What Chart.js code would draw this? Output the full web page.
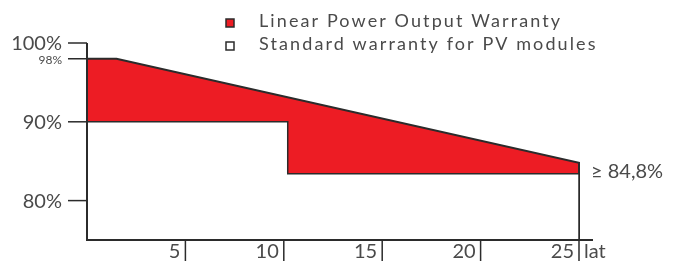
<!DOCTYPE html>
<html lang="en">
<head>
  <meta charset="UTF-8">
  <title>Warranty</title>
  <script src="https://cdn.jsdelivr.net/npm/chart.js"></script>
  <style>
    html, body { margin: 0; padding: 0; background: #fff; }
  </style>
</head>
<body>
  <canvas id="warrantyChart" width="673" height="261"></canvas>

  <script>
    // data
    const seriesNames = ['Linear Power Output Warranty', 'Standard warranty for PV modules'];
    const linearX = [0, 1.5, 25, 25];
    const linearY = [98, 98, 84.8, 75];
    const standardX = [0, 10.2, 10.2, 25, 25];
    const standardY = [90, 90, 83.4, 83.4, 75];
    const yearTicks = [5, 10, 15, 20, 25];
    const yTicks = [100, 98, 90, 80];
    const endLabel = '\u2265 84,8%';
    const unitLabel = 'lat';

    const ink = '#2b2b2b';
    const textColor = '#4a4a4a';
    const red = '#ed1c24';
    const fontFamily = 'Lato, "Open Sans", sans-serif';

    function toPoints(xs, ys) {
      return xs.map((x, i) => ({ x: x, y: ys[i] }));
    }

    const decorPlugin = {
      id: 'decor',
      afterDraw(chart) {
        const ctx = chart.ctx;
        const xs = chart.scales.x;
        const ys = chart.scales.y;
        const x0 = xs.getPixelForValue(0);
        const xEnd = xs.getPixelForValue(25);
        const yBottom = ys.getPixelForValue(75);
        ctx.save();
        ctx.strokeStyle = ink;
        ctx.lineWidth = 2;

        // axes
        ctx.beginPath();
        ctx.moveTo(x0, ys.getPixelForValue(100));
        ctx.lineTo(x0, yBottom);
        ctx.lineTo(xEnd + 14, yBottom);
        ctx.stroke();

        // y ticks
        ctx.fillStyle = textColor;
        ctx.textAlign = 'right';
        ctx.textBaseline = 'middle';
        yTicks.forEach(v => {
          const y = ys.getPixelForValue(v);
          ctx.lineWidth = 1.5;
          ctx.beginPath();
          ctx.moveTo(x0 - 19, y);
          ctx.lineTo(x0, y);
          ctx.stroke();
          const small = v === 98;
          ctx.font = (small ? '12px ' : '20px ') + fontFamily;
          ctx.fillText(v + '%', x0 - 25, y + 1);
        });

        // x ticks, labels sit left of the tick line
        ctx.font = '20px ' + fontFamily;
        yearTicks.forEach(v => {
          const x = xs.getPixelForValue(v);
          ctx.lineWidth = 1.5;
          ctx.beginPath();
          ctx.moveTo(x, yBottom);
          ctx.lineTo(x, chart.height);
          ctx.stroke();
          ctx.fillText(String(v), x - 5, yBottom + 12);
        });
        ctx.textAlign = 'left';
        ctx.fillText(unitLabel, xEnd + 5, yBottom + 12);

        // end value label
        ctx.fillText(endLabel, xEnd + 12, ys.getPixelForValue(84.8) + 9);

        // legend
        ctx.font = '18px ' + fontFamily;
        ctx.letterSpacing = '2.1px';
        const fills = [red, '#fff'];
        seriesNames.forEach((name, i) => {
          const top = 19 + i * 23;
          ctx.fillStyle = fills[i];
          ctx.fillRect(226, top, 8, 8);
          ctx.lineWidth = 1.5;
          ctx.strokeStyle = ink;
          ctx.strokeRect(226, top, 8, 8);
          ctx.fillStyle = textColor;
          ctx.fillText(name, 259, top + 2);
        });
        ctx.restore();
      }
    };

    const ctx = document.getElementById('warrantyChart').getContext('2d');
    new Chart(ctx, {
      type: 'line',
      data: {
        datasets: [
          {
            label: seriesNames[0],
            data: toPoints(linearX, linearY),
            borderColor: ink,
            borderWidth: 2,
            backgroundColor: red,
            fill: 'start',
            pointRadius: 0,
            tension: 0,
            clip: false,
            order: 2
          },
          {
            label: seriesNames[1],
            data: toPoints(standardX, standardY),
            borderColor: ink,
            borderWidth: 1.5,
            backgroundColor: '#ffffff',
            fill: 'start',
            pointRadius: 0,
            tension: 0,
            clip: false,
            order: 1
          }
        ]
      },
      options: {
        responsive: false,
        animation: false,
        layout: { padding: { left: 87, right: 94, top: 43, bottom: 21 } },
        plugins: { legend: { display: false }, tooltip: { enabled: false } },
        scales: {
          x: { type: 'linear', min: 0, max: 25, display: false },
          y: { min: 75, max: 100, display: false }
        }
      },
      plugins: [decorPlugin]
    });
  </script>
</body>
</html>
